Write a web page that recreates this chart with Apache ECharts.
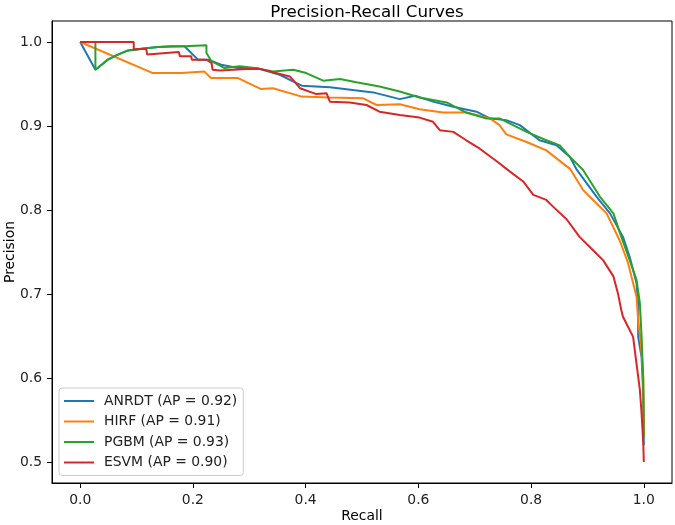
<!DOCTYPE html>
<html>
<head>
<meta charset="utf-8">
<script src="https://cdn.jsdelivr.net/npm/echarts@6/dist/echarts.min.js"></script>
<style>html,body{margin:0;padding:0;background:#fff}#c{width:675px;height:525px}</style>
</head>
<body>
<div id="c"></div>
<script>
var seriesNames = ['ANRDT (AP = 0.92)', 'HIRF (AP = 0.91)', 'PGBM (AP = 0.93)', 'ESVM (AP = 0.90)'];
var xTicks = [0.0, 0.2, 0.4, 0.6, 0.8, 1.0];
var yTicks = [0.5, 0.6, 0.7, 0.8, 0.9, 1.0];

var anrdt = [[0,1.0],[0.027,0.967],[0.038,0.973],[0.049,0.979],[0.067,0.985],[0.085,0.990],[0.109,0.992],[0.138,0.994],[0.16,0.995],[0.185,0.995],[0.209,0.979],[0.227,0.979],[0.25,0.973],[0.28,0.969],[0.313,0.969],[0.354,0.961],[0.393,0.948],[0.443,0.946],[0.52,0.940],[0.567,0.932],[0.594,0.936],[0.626,0.929],[0.662,0.923],[0.703,0.917],[0.727,0.909],[0.756,0.907],[0.780,0.901],[0.815,0.883],[0.845,0.877],[0.869,0.863],[0.881,0.848],[0.916,0.816],[0.94,0.796],[0.963,0.768],[0.975,0.744],[0.987,0.713],[0.99,0.689],[0.99,0.649],[0.996,0.625],[0.999,0.58],[1.0,0.52]];

var hirf = [[0,1.0],[0.129,0.963],[0.18,0.963],[0.22,0.965],[0.232,0.957],[0.28,0.957],[0.321,0.944],[0.342,0.945],[0.393,0.935],[0.443,0.934],[0.502,0.933],[0.526,0.925],[0.567,0.926],[0.602,0.920],[0.644,0.916],[0.685,0.916],[0.727,0.909],[0.744,0.901],[0.756,0.890],[0.792,0.881],[0.827,0.871],[0.869,0.849],[0.892,0.824],[0.910,0.812],[0.934,0.796],[0.957,0.764],[0.972,0.737],[0.987,0.697],[0.990,0.669],[0.995,0.64],[0.999,0.60],[1.0,0.53]];

var pgbm = [[0,1.0],[0.027,1.0],[0.027,0.967],[0.038,0.973],[0.049,0.979],[0.067,0.985],[0.085,0.990],[0.109,0.992],[0.138,0.994],[0.185,0.995],[0.224,0.996],[0.224,0.987],[0.233,0.977],[0.245,0.973],[0.256,0.969],[0.283,0.971],[0.31,0.969],[0.342,0.965],[0.378,0.967],[0.401,0.963],[0.431,0.954],[0.461,0.956],[0.49,0.952],[0.531,0.947],[0.567,0.941],[0.602,0.934],[0.65,0.928],[0.685,0.916],[0.721,0.909],[0.744,0.909],[0.768,0.901],[0.792,0.893],[0.827,0.883],[0.851,0.877],[0.869,0.863],[0.892,0.848],[0.922,0.816],[0.946,0.796],[0.957,0.774],[0.975,0.740],[0.987,0.717],[0.993,0.689],[0.996,0.65],[0.999,0.598],[1.0,0.53]];

var esvm = [[0,1.0],[0.095,1.0],[0.095,0.991],[0.117,0.992],[0.119,0.985],[0.175,0.988],[0.177,0.983],[0.197,0.983],[0.198,0.979],[0.224,0.979],[0.233,0.975],[0.235,0.967],[0.248,0.966],[0.295,0.968],[0.319,0.968],[0.372,0.959],[0.39,0.945],[0.419,0.938],[0.437,0.939],[0.443,0.929],[0.478,0.928],[0.508,0.925],[0.531,0.917],[0.567,0.913],[0.602,0.910],[0.626,0.905],[0.638,0.895],[0.662,0.893],[0.685,0.883],[0.709,0.873],[0.739,0.858],[0.762,0.846],[0.786,0.834],[0.804,0.818],[0.827,0.812],[0.839,0.804],[0.863,0.789],[0.886,0.768],[0.910,0.752],[0.928,0.740],[0.946,0.721],[0.954,0.701],[0.96,0.681],[0.963,0.673],[0.972,0.661],[0.981,0.649],[0.987,0.617],[0.993,0.586],[0.996,0.558],[0.999,0.522],[1.0,0.50]];

var colors = ['#1f77b4', '#ff7f0e', '#2ca02c', '#d62728'];
var allData = [anrdt, hirf, pgbm, esvm];
var FONT = 'DejaVu Sans';

var chart = echarts.init(document.getElementById('c'));
var series = allData.map(function (d, i) {
  return {
    name: seriesNames[i], type: 'line', data: d, showSymbol: false, symbol: 'none',
    lineStyle: { width: 2, color: colors[i] }, itemStyle: { color: colors[i] },
    z: 2 + i, animation: false
  };
});

chart.setOption({
  animation: false,
  textStyle: { fontFamily: FONT },
  title: {
    text: 'Precision-Recall Curves', left: 362, top: -1, textAlign: 'center',
    textStyle: { fontFamily: FONT, fontSize: 16.7, fontWeight: 'normal', color: '#000' }
  },
  grid: { left: 52, right: 3, top: 21, bottom: 42, containLabel: false, outerBoundsMode: 'none',
    show: true, borderColor: '#000', borderWidth: 1, backgroundColor: 'transparent' },
  legend: {
    orient: 'vertical', left: 59, top: 388, data: seriesNames,
    icon: 'rect', itemWidth: 30, itemHeight: 2, itemGap: 4.5,
    padding: [5, 6, 5, 5],
    backgroundColor: 'rgba(255,255,255,0.8)', borderColor: '#cccccc', borderWidth: 1, borderRadius: 3,
    textStyle: { fontFamily: FONT, fontSize: 13.9, color: '#222', lineHeight: 16, padding: [0, 0, 0, 5] }
  },
  xAxis: {
    type: 'value', min: -0.05, max: 1.05,
    name: 'Recall', nameLocation: 'middle', nameGap: 33, nameMoveOverlap: false,
    nameTextStyle: { fontFamily: FONT, fontSize: 13.9, color: '#000', verticalAlign: 'middle' },
    axisLine: { show: true, onZero: false, lineStyle: { color: '#000', width: 1 } },
    axisTick: { show: true, inside: false, length: 5, customValues: xTicks, lineStyle: { color: '#000', width: 1 } },
    axisLabel: { margin: 10, customValues: xTicks, fontFamily: FONT, fontSize: 13.9, color: '#222',
      formatter: function (v) { return v.toFixed(1); } },
    splitLine: { show: false }
  },
  yAxis: {
    type: 'value', min: 0.475, max: 1.025,
    name: 'Precision', nameLocation: 'middle', nameGap: 42, nameMoveOverlap: false,
    nameTextStyle: { fontFamily: FONT, fontSize: 13.9, color: '#000', verticalAlign: 'middle' },
    axisLine: { show: true, onZero: false, lineStyle: { color: '#000', width: 1 } },
    axisTick: { show: true, inside: false, length: 5, customValues: yTicks, lineStyle: { color: '#000', width: 1 } },
    axisLabel: { margin: 10, customValues: yTicks, fontFamily: FONT, fontSize: 13.9, color: '#222',
      formatter: function (v) { return v.toFixed(1); } },
    splitLine: { show: false }
  },
  series: series
});
</script>
</body>
</html>
